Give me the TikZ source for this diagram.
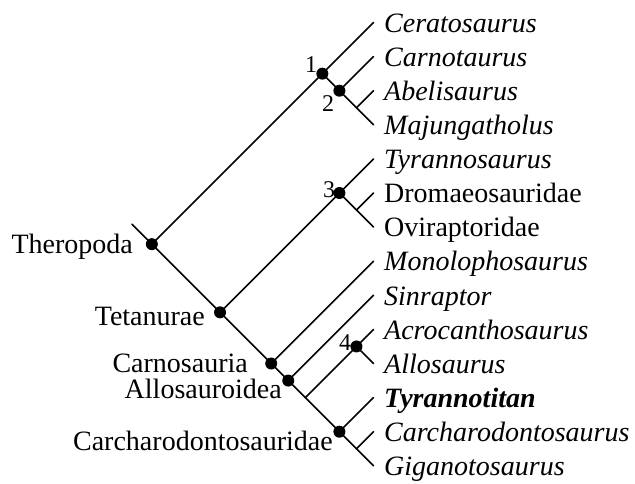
\documentclass[tikz,border=0pt]{standalone}
\usepackage{fontspec}
\setmainfont{Liberation Serif}
\begin{document}
\begin{tikzpicture}[x=1pt,y=-1pt,
  br/.style={line width=1.6pt, line cap=round, line join=round},
  dot/.style={circle, fill=black, inner sep=0pt, minimum size=12pt},
  tip/.style={anchor=base west, inner sep=0pt, font=\fontsize{28}{30}\selectfont},
  clade/.style={anchor=base east, inner sep=0pt, font=\fontsize{28}{30}\selectfont},
  num/.style={inner sep=0pt, font=\fontsize{24}{26}\selectfont}]
\useasboundingbox (0,0) rectangle (635,483);
% tips
\coordinate (t0) at (373.5,22.5);
\coordinate (t1) at (373.5,56.6);
\coordinate (t2) at (373.5,90.7);
\coordinate (t3) at (373.5,124.8);
\coordinate (t4) at (373.5,158.9);
\coordinate (t5) at (373.5,193.0);
\coordinate (t6) at (373.5,227.1);
\coordinate (t7) at (373.5,261.2);
\coordinate (t8) at (373.5,295.3);
\coordinate (t9) at (373.5,329.4);
\coordinate (t10) at (373.5,363.5);
\coordinate (t11) at (373.5,397.6);
\coordinate (t12) at (373.5,431.7);
\coordinate (t13) at (373.5,465.8);
% internal vertices
\coordinate (stub) at (131.85,224.15);
\coordinate (root) at (151.85,244.15);
\coordinate (n1) at (322.35,73.65);
\coordinate (n2) at (339.4,90.7);
\coordinate (ab) at (356.45,107.75);
\coordinate (tet) at (220.05,312.35);
\coordinate (n3) at (339.4,193.0);
\coordinate (dr) at (356.45,210.05);
\coordinate (carno) at (271.2,363.5);
\coordinate (allo) at (288.25,380.55);
\coordinate (xx) at (305.3,397.6);
\coordinate (n4) at (356.45,346.45);
\coordinate (carch) at (339.4,431.7);
\coordinate (cg) at (356.45,448.75);
% branches
\draw[br] (stub) -- (root);
\draw[br] (root) -- (n1) -- (t0);
\draw[br] (n1) -- (n2) -- (t1);
\draw[br] (n2) -- (ab) -- (t3);
\draw[br] (ab) -- (t2);
\draw[br] (root) -- (tet) -- (n3) -- (t4);
\draw[br] (n3) -- (dr) -- (t6);
\draw[br] (dr) -- (t5);
\draw[br] (tet) -- (carno) -- (t7);
\draw[br] (carno) -- (allo) -- (t8);
\draw[br] (allo) -- (xx) -- (carch);
\draw[br] (xx) -- (n4) -- (t9);
\draw[br] (n4) -- (t10);
\draw[br] (carch) -- (t11);
\draw[br] (carch) -- (cg) -- (t13);
\draw[br] (cg) -- (t12);
% dots
\node[dot] (d-root) at (root) {};
\node[dot] (d-n1) at (n1) {};
\node[dot] (d-n2) at (n2) {};
\node[dot] (d-tet) at (tet) {};
\node[dot] (d-n3) at (n3) {};
\node[dot] (d-carno) at (carno) {};
\node[dot] (d-allo) at (allo) {};
\node[dot] (d-n4) at (n4) {};
\node[dot] (d-carch) at (carch) {};
% numbers
\node[num] (k1) at (311,65) {1};
\node[num] (k2) at (328,104) {2};
\node[num] (k3) at (329,190) {3};
\node[num] (k4) at (345,343) {4};
% tip labels
\node[tip] (l0) at (384,32.2) {\textit{Ceratosaurus}};
\node[tip] (l1) at (384,66.3) {\textit{Carnotaurus}};
\node[tip] (l2) at (384,100.4) {\textit{Abelisaurus}};
\node[tip] (l3) at (384,134.5) {\textit{Majungatholus}};
\node[tip] (l4) at (384,168.6) {\textit{Tyrannosaurus}};
\node[tip] (l5) at (384,202.7) {Dromaeosauridae};
\node[tip] (l6) at (384,236.8) {Oviraptoridae};
\node[tip] (l7) at (384,270.9) {\textit{Monolophosaurus}};
\node[tip] (l8) at (384,305.0) {\textit{Sinraptor}};
\node[tip] (l9) at (384,339.1) {\textit{Acrocanthosaurus}};
\node[tip] (l10) at (384,373.2) {\textit{Allosaurus}};
\node[tip] (l11) at (384,407.3) {\textbf{\textit{Tyrannotitan}}};
\node[tip] (l12) at (384,441.4) {\textit{Carcharodontosaurus}};
\node[tip] (l13) at (384,475.5) {\textit{Giganotosaurus}};
% clade labels
\node[clade] (c-thero) at (133,253) {Theropoda};
\node[clade] (c-tet) at (205,325) {Tetanurae};
\node[clade] (c-carno) at (248,372) {Carnosauria};
\node[clade] (c-allo) at (282,398) {Allosauroidea};
\node[clade] (c-carch) at (333,450) {Carcharodontosauridae};
\end{tikzpicture}
\end{document}
